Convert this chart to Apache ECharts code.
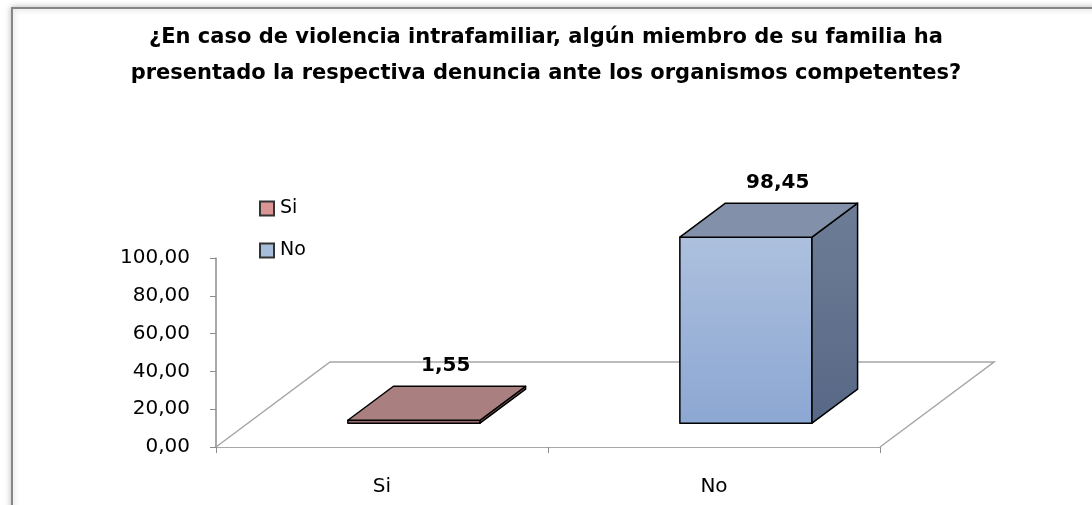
<!DOCTYPE html>
<html>
<head>
<meta charset="utf-8">
<script src="https://cdn.jsdelivr.net/npm/echarts@6/dist/echarts.min.js"></script>
<style>
  html, body { margin: 0; padding: 0; background: #fff; }
  #chart { width: 1092px; height: 505px; }
</style>
</head>
<body>
<div id="chart"></div>
<script>
// data
const categories = ["Si", "No"];
const values = [1.55, 98.45];
const yMin = 0;
const yMax = 100;
const yStep = 20;

// look of the faux 3d bars
const FONT = "'DejaVu Sans', sans-serif";
const DX = 114; // floor depth, pixels
const DY = -85;
const faces = {
  Si: { front: "#9a6f6f", side: "#7a5656", top: "#a97f7f", legend: "#d99694" },
  No: {
    front: new echarts.graphic.LinearGradient(0, 0, 0, 1, [
      { offset: 0, color: "#adc0de" },
      { offset: 1, color: "#8ca7d3" },
    ]),
    side: new echarts.graphic.LinearGradient(0, 0, 0, 1, [
      { offset: 0, color: "#6e7d96" },
      { offset: 1, color: "#576886" },
    ]),
    top: "#8291a9",
    legend: "#a6bddb",
  },
};

function fmt(v) {
  return v.toFixed(2).replace(".", ",");
}

function floorItem(params, api) {
  const cs = params.coordSys;
  const x0 = cs.x, x1 = cs.x + cs.width, y0 = cs.y + cs.height;
  return {
    type: "polyline",
    shape: {
      points: [
        [x0, y0],
        [x0 + DX, y0 + DY],
        [x1 + DX, y0 + DY],
        [x1, y0],
      ],
    },
    style: { stroke: "#a6a6a6", lineWidth: 1.5, fill: "#fff" },
  };
}

function barItem(params, api) {
  const cat = api.value(0);
  const val = api.value(1);
  const base = api.coord([cat, 0]);
  const top = api.coord([cat, val]);
  const band = api.size([1, 0])[0];
  const hw = band * 0.199;
  const f0 = 0.28, f1 = 0.68;
  const p = (x, y, f) => [x + f * DX, y + f * DY];
  const xl = base[0] - hw, xr = base[0] + hw;
  const fbl = p(xl, base[1], f0), fbr = p(xr, base[1], f0);
  const ftl = p(xl, top[1], f0), ftr = p(xr, top[1], f0);
  const bbr = p(xr, base[1], f1), btl = p(xl, top[1], f1), btr = p(xr, top[1], f1);
  const c = faces[categories[cat]];
  const edge = { stroke: "#000", lineWidth: 1.5, lineJoin: "round" };
  return {
    type: "group",
    children: [
      { type: "polygon", shape: { points: [ftl, ftr, fbr, fbl] }, style: Object.assign({ fill: c.front }, edge) },
      { type: "polygon", shape: { points: [ftr, btr, bbr, fbr] }, style: Object.assign({ fill: c.side }, edge) },
      { type: "polygon", shape: { points: [ftl, ftr, btr, btl] }, style: Object.assign({ fill: c.top }, edge) },
      {
        type: "text",
        x: (ftl[0] + btr[0]) / 2 + 9,
        y: btl[1] - 20,
        style: {
          text: fmt(val),
          fill: "#000",
          font: "bold 20px " + FONT,
          align: "center",
          verticalAlign: "middle",
        },
      },
    ],
  };
}

const chart = echarts.init(document.getElementById("chart"));
const option = {
  animation: false,
  backgroundColor: "#fff",
  title: {
    text: "¿En caso de violencia intrafamiliar, algún miembro de su familia ha\npresentado la respectiva denuncia ante los organismos competentes?",
    left: "center",
    top: 15,
    textStyle: { fontFamily: FONT, fontWeight: "bold", fontSize: 21, lineHeight: 36, color: "#000" },
  },
  graphic: [
    {
      type: "rect",
      shape: { x: 12, y: 8, width: 1100, height: 520 },
      style: {
        fill: "#fff",
        stroke: "#868686",
        lineWidth: 2,
        shadowColor: "rgba(0,0,0,0.25)",
        shadowBlur: 6,
      },
      z: -1,
    },
  ],
  legend: {
    data: categories,
    orient: "vertical",
    left: 259,
    top: 199,
    padding: 0,
    itemWidth: 14,
    itemHeight: 14,
    itemGap: 23,
    icon: "rect",
    textStyle: { fontFamily: FONT, fontSize: 19, color: "#000", padding: [0, 0, 0, 1] },
  },
  grid: { left: 216, right: 212, top: 258, bottom: 58 },
  xAxis: {
    type: "category",
    data: categories,
    axisLine: { lineStyle: { color: "#8c8c8c", width: 1.5 } },
    axisTick: { show: true, length: 6, lineStyle: { color: "#8c8c8c" } },
    axisLabel: { fontFamily: FONT, fontSize: 20, color: "#000", margin: 30 },
    splitLine: { show: false },
  },
  yAxis: {
    type: "value",
    min: yMin,
    max: yMax,
    interval: yStep,
    axisLine: { show: true, lineStyle: { color: "#8c8c8c", width: 1.5 } },
    axisTick: { show: true, length: 6, lineStyle: { color: "#8c8c8c" } },
    axisLabel: { fontFamily: FONT, fontSize: 20, color: "#000", margin: 26, formatter: fmt },
    splitLine: { show: false },
  },
  series: [
    {
      name: "floor",
      type: "custom",
      renderItem: floorItem,
      data: [[0, 0]],
      silent: true,
      z: 1,
    },
  ].concat(
    categories.map(function (c, i) {
      return {
        name: c,
        type: "custom",
        renderItem: barItem,
        data: [[i, values[i]]],
        itemStyle: { color: faces[c].legend, borderColor: "#333", borderWidth: 1 },
        z: 3,
      };
    })
  ),
};
chart.setOption(option);
</script>
</body>
</html>
